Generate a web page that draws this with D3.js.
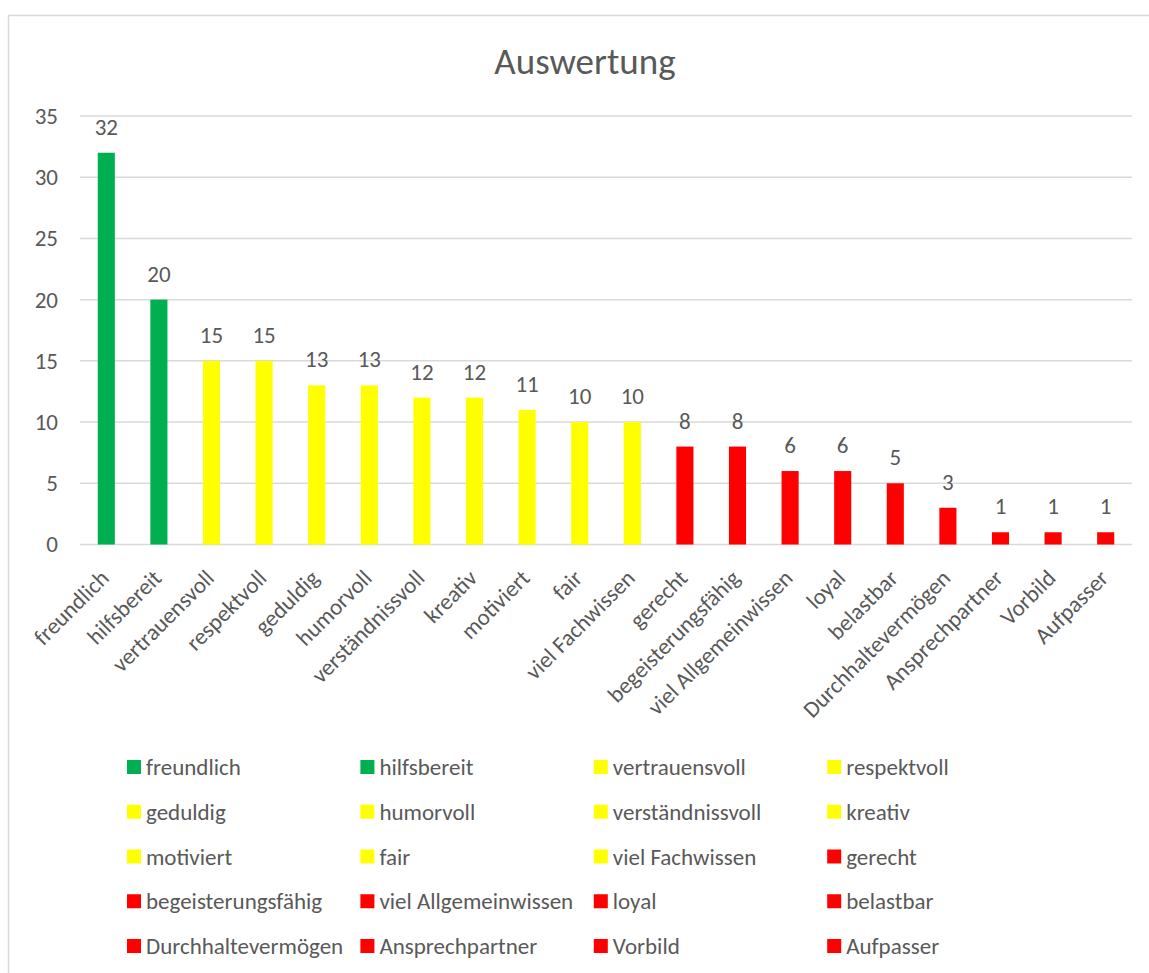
<!DOCTYPE html>
<html>
<head>
<meta charset="utf-8">
<script src="https://cdn.jsdelivr.net/npm/d3@7"></script>
<style>
  html, body { margin: 0; padding: 0; background: #fff; }
  svg { display: block; }
  text { font-family: Carlito, Lato, "Open Sans", sans-serif; fill: #595959; }
</style>
</head>
<body>
<svg id="chart" width="1149" height="973"></svg>
<script>
// Auswertung: Anzahl der Nennungen je Eigenschaft
const categories = ["freundlich", "hilfsbereit", "vertrauensvoll", "respektvoll", "geduldig",
  "humorvoll", "verständnissvoll", "kreativ", "motiviert", "fair", "viel Fachwissen",
  "gerecht", "begeisterungsfähig", "viel Allgemeinwissen", "loyal", "belastbar",
  "Durchhaltevermögen", "Ansprechpartner", "Vorbild", "Aufpasser"];
const counts = [32, 20, 15, 15, 13, 13, 12, 12, 11, 10, 10, 8, 8, 6, 6, 5, 3, 1, 1, 1];
// Farbgruppe je Eigenschaft
const groups = ["gruen", "gruen", "gelb", "gelb", "gelb", "gelb", "gelb", "gelb", "gelb", "gelb", "gelb",
  "rot", "rot", "rot", "rot", "rot", "rot", "rot", "rot", "rot"];
const yTicks = [0, 5, 10, 15, 20, 25, 30, 35];
const title = "Auswertung";

const colour = d3.scaleOrdinal()
  .domain(["gruen", "gelb", "rot"])
  .range(["#00B050", "#FFFF00", "#FF0000"]);

const svg = d3.select("#chart");
const fontSize = "23px";

// chart area frame
svg.append("rect")
  .attr("x", 8.5).attr("y", 15.5)
  .attr("width", 1200).attr("height", 1000)
  .attr("fill", "#fff")
  .attr("stroke", "#D9D9D9").attr("stroke-width", 1.5);

const plot = { left: 80, right: 1132, top: 116, bottom: 544.5 };

const x = d3.scaleBand()
  .domain(categories)
  .range([plot.left, plot.right])
  .paddingInner(0.675)
  .paddingOuter(0.3375);

const y = d3.scaleLinear()
  .domain([0, 35])
  .range([plot.bottom, plot.top]);

// title
svg.append("text")
  .attr("x", 585).attr("y", 74)
  .attr("text-anchor", "middle")
  .style("font-size", "37px")
  .text(title);

// gridlines
svg.append("g")
  .selectAll("line")
  .data(yTicks)
  .join("line")
  .attr("x1", plot.left).attr("x2", plot.right)
  .attr("y1", d => y(d)).attr("y2", d => y(d))
  .attr("stroke", "#D9D9D9").attr("stroke-width", 1.5);

// y axis labels
const yAxis = d3.axisLeft(y).tickValues(yTicks).tickSize(0).tickPadding(0);
const yg = svg.append("g")
  .attr("transform", `translate(${plot.left - 22},0)`)
  .call(yAxis);
yg.select(".domain").remove();
yg.selectAll("text")
  .style("font-size", fontSize)
  .attr("fill", "#595959");

// bars
svg.append("g")
  .selectAll("rect")
  .data(categories)
  .join("rect")
  .attr("x", d => x(d))
  .attr("y", (d, i) => y(counts[i]))
  .attr("width", x.bandwidth())
  .attr("height", (d, i) => y(0) - y(counts[i]))
  .attr("fill", (d, i) => colour(groups[i]));

// value labels
svg.append("g")
  .selectAll("text")
  .data(categories)
  .join("text")
  .attr("x", d => x(d) + x.bandwidth() / 2)
  .attr("y", (d, i) => y(counts[i]) - 18)
  .attr("text-anchor", "middle")
  .style("font-size", fontSize)
  .text((d, i) => counts[i]);

// category axis labels, rotated
const xAxis = d3.axisBottom(x).tickSize(0).tickPadding(0);
const xg = svg.append("g")
  .attr("transform", `translate(0,${plot.bottom})`)
  .call(xAxis);
xg.select(".domain").remove();
xg.selectAll("text")
  .style("font-size", fontSize)
  .attr("fill", "#595959")
  .attr("text-anchor", "end")
  .attr("dy", null)
  .attr("y", 0)
  .attr("transform", "translate(4,35) rotate(-45)");

// legend, four columns
const legend = svg.append("g");
const item = legend.selectAll("g")
  .data(categories)
  .join("g")
  .attr("transform", (d, i) => `translate(${127 + (i % 4) * 233.4},${767 + Math.floor(i / 4) * 44.75})`);
item.append("rect")
  .attr("x", 0).attr("y", -7)
  .attr("width", 14).attr("height", 14)
  .attr("fill", (d, i) => colour(groups[i]));
item.append("text")
  .attr("x", 19).attr("y", 0)
  .attr("dy", "0.35em")
  .style("font-size", fontSize)
  .text(d => d);
</script>
</body>
</html>
